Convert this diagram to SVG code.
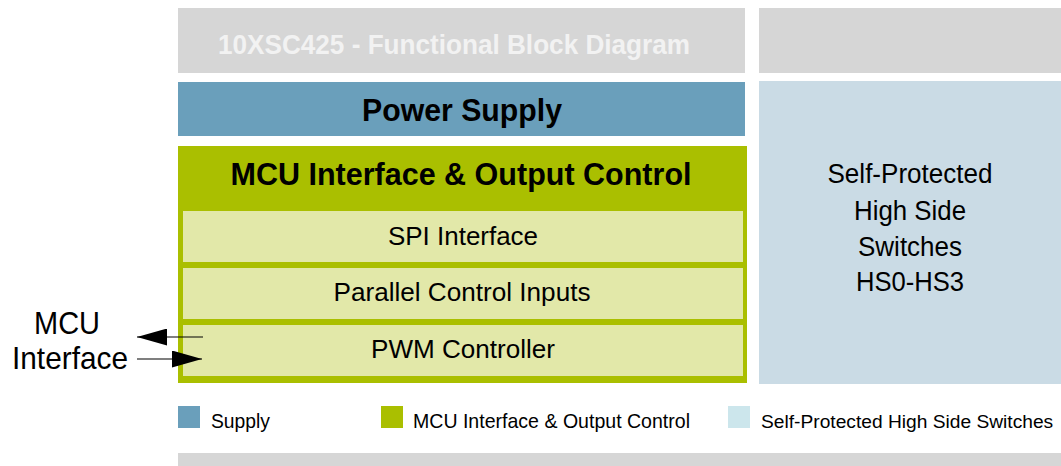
<svg xmlns="http://www.w3.org/2000/svg" width="1061" height="466" viewBox="0 0 1061 466">
<defs>
<style>
text{font-family:"Liberation Sans",Arial,sans-serif;text-anchor:middle;fill:#000}
.b{font-weight:bold}
.sub{fill:#e2e8a9}
.leg{font-size:21px;text-anchor:start}
</style>
<marker id="ah" viewBox="0 0 10 10" refX="10" refY="5" markerWidth="30" markerHeight="17" markerUnits="userSpaceOnUse" orient="auto" preserveAspectRatio="none">
<path d="M0,0L10,5L0,10Z" fill="#000"/>
</marker>
</defs>
<rect width="1061" height="466" fill="#fff"/>
<g id="title">
<rect x="178" y="8" width="567" height="65" fill="#d6d6d6"/>
<text x="454" y="54" class="b" font-size="28" style="fill:#f2f2f2" textLength="472" lengthAdjust="spacingAndGlyphs">10XSC425 - Functional Block Diagram</text>
</g>
<g id="title-right"><rect x="759" y="8" width="302" height="65" fill="#d6d6d6"/></g>
<g id="power-supply">
<rect x="178" y="82" width="567" height="54" fill="#6a9fbb"/>
<text x="462" y="121" class="b" font-size="32" textLength="200" lengthAdjust="spacingAndGlyphs">Power Supply</text>
</g>
<g id="high-side-switches">
<rect x="759" y="81" width="302" height="303" fill="#cadbe5"/>
<text font-size="27"><tspan x="910" y="183" textLength="165" lengthAdjust="spacingAndGlyphs">Self-Protected</tspan><tspan x="910" y="220" textLength="112" lengthAdjust="spacingAndGlyphs">High Side</tspan><tspan x="910" y="256" textLength="104" lengthAdjust="spacingAndGlyphs">Switches</tspan><tspan x="910" y="291" textLength="108" lengthAdjust="spacingAndGlyphs">HS0-HS3</tspan></text>
</g>
<g id="mcu-interface">
<rect x="178" y="146" width="569" height="237" fill="#aabf00"/>
<text x="461" y="185" class="b" font-size="32" textLength="461" lengthAdjust="spacingAndGlyphs">MCU Interface &amp; Output Control</text>
</g>
<g id="spi-interface">
<rect class="sub" x="183" y="211" width="560" height="51"/>
<text x="463" y="245" font-size="26" textLength="150" lengthAdjust="spacingAndGlyphs">SPI Interface</text>
</g>
<g id="parallel-control-inputs">
<rect class="sub" x="183" y="268" width="560" height="51"/>
<text x="462" y="301" font-size="26" textLength="257" lengthAdjust="spacingAndGlyphs">Parallel Control Inputs</text>
</g>
<g id="pwm-controller">
<rect class="sub" x="183" y="325" width="560" height="51"/>
<text x="463" y="358" font-size="26" textLength="184" lengthAdjust="spacingAndGlyphs">PWM Controller</text>
</g>
<g id="mcu-label">
<text font-size="32"><tspan x="67" y="334" textLength="66" lengthAdjust="spacingAndGlyphs">MCU</tspan><tspan x="70" y="369" textLength="116" lengthAdjust="spacingAndGlyphs">Interface</tspan></text>
</g>
<g id="connectors" stroke="#000" stroke-width="1.2" fill="none">
<line x1="203" y1="337" x2="137" y2="337" marker-end="url(#ah)"/>
<line x1="137" y1="359" x2="202" y2="359" marker-end="url(#ah)"/>
</g>
<g id="legend">
<rect x="178" y="406" width="22" height="22" fill="#6a9fbb"/>
<text class="leg" x="211" y="428" textLength="59" lengthAdjust="spacingAndGlyphs">Supply</text>
<rect x="381" y="406" width="22" height="22" fill="#aabf00"/>
<text class="leg" x="413" y="428" textLength="277" lengthAdjust="spacingAndGlyphs">MCU Interface &amp; Output Control</text>
<rect x="728" y="406" width="22" height="22" fill="#cce6ec"/>
<text class="leg" x="761" y="428" style="font-size:19.2px">Self-Protected High Side Switches</text>
</g>
<g id="footer"><rect x="178" y="453" width="883" height="13" fill="#d6d6d6"/></g>
</svg>
